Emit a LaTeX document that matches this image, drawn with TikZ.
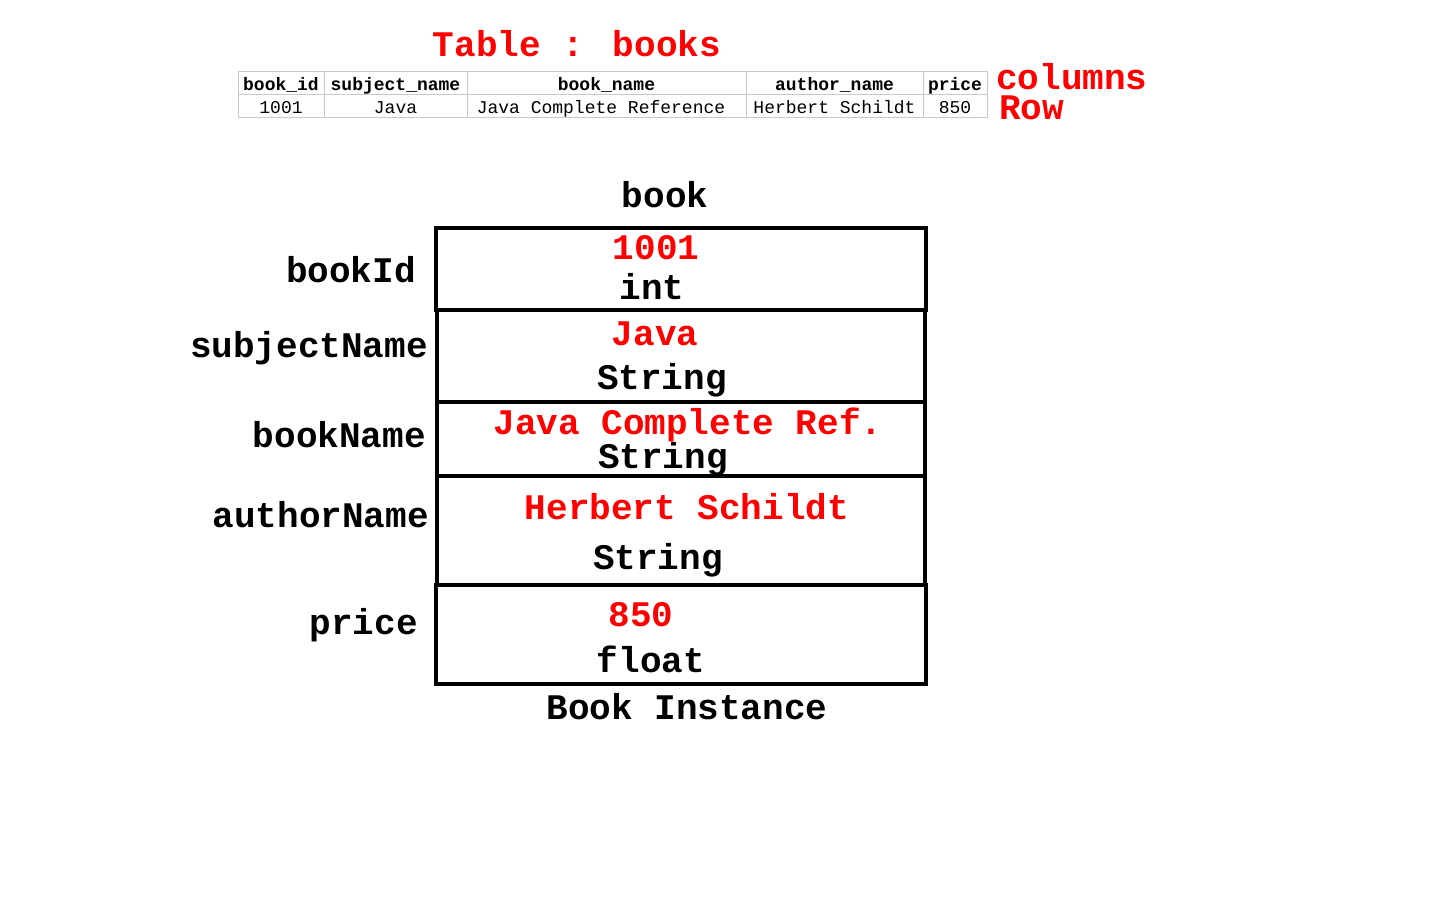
\documentclass[tikz,border=0pt]{standalone}
\usepackage{fontspec}
\setmainfont{Liberation Mono}
\definecolor{gridgray}{RGB}{200,200,200}
\definecolor{vred}{RGB}{255,0,0}
\begin{document}
\begin{tikzpicture}[x=1pt,y=-1pt,
  big/.style={font=\fontsize{36}{40}\selectfont\bfseries, anchor=base, inner sep=0pt},
  bigred/.style={big, text=vred},
  cell/.style={draw=gridgray, line width=1pt, anchor=north west, inner sep=0pt, outer sep=0pt},
  small/.style={font=\fontsize{18}{20}\selectfont, anchor=base, inner sep=0pt},
  smallb/.style={small, font=\fontsize{18}{20}\selectfont\bfseries},
  field/.style={draw=black, line width=3.5pt, anchor=north west, inner sep=0pt, outer sep=0pt}]
\useasboundingbox (0,0) rectangle (1440,900);
% table
\node[bigred] (title) at (577,56) {Table : books};
\node[cell, minimum width=86, minimum height=23] (h1) at (238,71) {};
\node[cell, minimum width=143, minimum height=23] (h2) at (324,71) {};
\node[cell, minimum width=279, minimum height=23] (h3) at (467,71) {};
\node[cell, minimum width=177, minimum height=23] (h4) at (746,71) {};
\node[cell, minimum width=64, minimum height=23] (h5) at (923,71) {};
\node[cell, minimum width=86, minimum height=23] (d1) at (238,94) {};
\node[cell, minimum width=143, minimum height=23] (d2) at (324,94) {};
\node[cell, minimum width=279, minimum height=23] (d3) at (467,94) {};
\node[cell, minimum width=177, minimum height=23] (d4) at (746,94) {};
\node[cell, minimum width=64, minimum height=23] (d5) at (923,94) {};
\node[smallb] (t1) at (281,90) {book\_id};
\node[smallb] (t2) at (395.5,90) {subject\_name};
\node[smallb] (t3) at (606.5,90) {book\_name};
\node[smallb] (t4) at (834.5,90) {author\_name};
\node[smallb] (t5) at (955,90) {price};
\node[small] (v1) at (281,113) {1001};
\node[small] (v2) at (395.5,113) {Java};
\node[small] (v3) at (601,113) {Java Complete Reference};
\node[small] (v4) at (834.5,113) {Herbert Schildt};
\node[small] (v5) at (955,113) {850};
\node[bigred, anchor=base west] (cols) at (996,89) {columns};
\node[bigred, anchor=base west] (rowl) at (999,119) {Row};
% object
\node[big] (book) at (665,207) {book};
\node[field, minimum width=490, minimum height=82] (f1) at (436,228) {};
\node[field, minimum width=488, minimum height=92] (f2) at (437,310) {};
\node[field, minimum width=488, minimum height=74] (f3) at (437,402) {};
\node[field, minimum width=488, minimum height=109] (f4) at (437,476) {};
\node[field, minimum width=490, minimum height=99] (f5) at (436,585) {};
\node[bigred] (x1) at (656,259) {1001};
\node[big] (y1) at (652,299) {int};
\node[bigred] (x2) at (655,345) {Java};
\node[big] (y2) at (662,389) {String};
\node[bigred] (x3) at (688,434) {Java Complete Ref.};
\node[big] (y3) at (663,468) {String};
\node[bigred] (x4) at (687,519) {Herbert Schildt};
\node[big] (y4) at (658,569) {String};
\node[bigred] (x5) at (641,626) {850};
\node[big] (y5) at (651,672) {float};
\node[big, anchor=base east] (l1) at (416,282) {bookId};
\node[big, anchor=base east] (l2) at (428,357) {subjectName};
\node[big, anchor=base east] (l3) at (426,447) {bookName};
\node[big, anchor=base east] (l4) at (429,527) {authorName};
\node[big, anchor=base east] (l5) at (418,634) {price};
\node[big] (inst) at (687,719) {Book Instance};
\end{tikzpicture}
\end{document}
